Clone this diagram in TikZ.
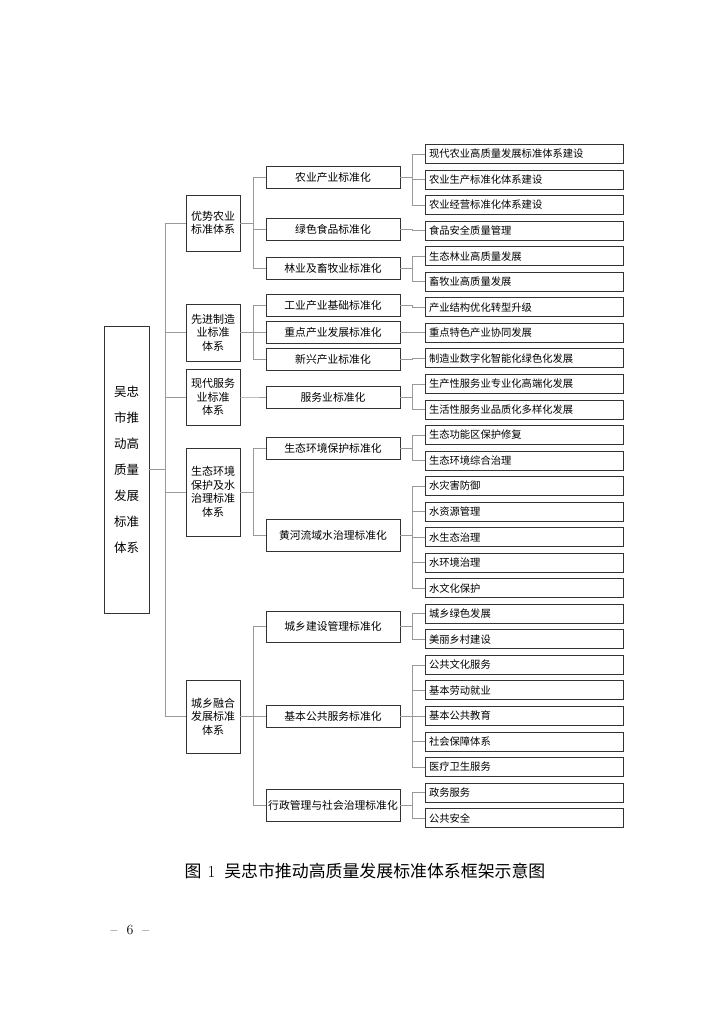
\documentclass[tikz,border=0pt]{standalone}
\usepackage{fontspec}
\newfontfamily\cjk{Noto Sans CJK SC}
\usetikzlibrary{positioning}

\tikzset{
  box/.style={draw=black!80, line width=0.7pt, inner sep=0pt},
  rootbox/.style={box, minimum width=45pt, minimum height=287pt, align=center,
    font=\cjk\fontsize{12.5}{26}\selectfont},
  sysbox/.style={box, minimum width=54pt, align=center,
    font=\cjk\fontsize{11}{13.5}\selectfont},
  stdbox/.style={box, minimum width=134pt, minimum height=22pt,
    font=\cjk\fontsize{10.8}{13}\selectfont},
  itembox/.style={box, minimum width=198pt, minimum height=19pt, text width=190pt,
    inner xsep=4pt, align=left, font=\cjk\fontsize{10.3}{12}\selectfont},
  link/.style={draw=black!40, line width=0.6pt},
}

\begin{document}
\begin{tikzpicture}[x=1pt, y=-1pt]
  \useasboundingbox (0,0) rectangle (724,1024);

  % Root
  \node[rootbox] (root) at (126.5, 469.5)
    {吴忠\\市推\\动高\\质量\\发展\\标准\\体系};

  % Systems
  \node[sysbox, minimum height=56pt] (sys1) at (213, 223) {优势农业\\标准体系};
  \node[sysbox, minimum height=57pt] (sys2) at (213, 332.5) {先进制造\\业标准\\体系};
  \node[sysbox, minimum height=56pt] (sys3) at (213, 397) {现代服务\\业标准\\体系};
  \node[sysbox, minimum height=88pt] (sys4) at (213, 492) {生态环境\\保护及水\\治理标准\\体系};
  \node[sysbox, minimum height=73pt] (sys5) at (213, 716.5) {城乡融合\\发展标准\\体系};

  % Standardisation fields
  \node[stdbox] (std1) at (333, 177) {农业产业标准化};
  \node[stdbox] (std2) at (333, 229) {绿色食品标准化};
  \node[stdbox] (std3) at (333, 268) {林业及畜牧业标准化};
  \node[stdbox] (std4) at (333, 305) {工业产业基础标准化};
  \node[stdbox] (std5) at (333, 332) {重点产业发展标准化};
  \node[stdbox] (std6) at (333, 359.5) {新兴产业标准化};
  \node[stdbox] (std7) at (333, 397) {服务业标准化};
  \node[stdbox] (std8) at (333, 448) {生态环境保护标准化};
  \node[stdbox, minimum height=32pt] (std9) at (333, 535) {黄河流域水治理标准化};
  \node[stdbox, minimum height=31pt] (std10) at (333, 626.5) {城乡建设管理标准化};
  \node[stdbox] (std11) at (333, 716) {基本公共服务标准化};
  \node[stdbox, minimum height=32pt] (std12) at (333, 805) {行政管理与社会治理标准化};

  % Items
  \foreach \t [count=\i from 0] in {
    现代农业高质量发展标准体系建设, 农业生产标准化体系建设, 农业经营标准化体系建设,
    食品安全质量管理, 生态林业高质量发展, 畜牧业高质量发展,
    产业结构优化转型升级, 重点特色产业协同发展, 制造业数字化智能化绿色化发展,
    生产性服务业专业化高端化发展, 生活性服务业品质化多样化发展,
    生态功能区保护修复, 生态环境综合治理,
    水灾害防御, 水资源管理, 水生态治理, 水环境治理, 水文化保护,
    城乡绿色发展, 美丽乡村建设,
    公共文化服务, 基本劳动就业, 基本公共教育, 社会保障体系, 医疗卫生服务,
    政务服务, 公共安全}
    \node[itembox] (it\i) at (524, {154+25.54*\i}) {\t};

  % Bus lines
  \coordinate (rb) at (165, 0);
  \coordinate (sb) at (253, 0);
  \coordinate (ib) at (412, 0);

  \foreach \k in {1,...,5}
    \draw[link] (root.east) -- (root.east -| rb) |- (sys\k.west);

  \foreach \s/\a/\b in {sys1/1/3, sys2/4/6, sys3/7/7, sys4/8/9, sys5/10/12}
    \foreach \k in {\a,...,\b}
      \draw[link] (\s.east) -- (\s.east -| sb) |- (std\k.west);

  \foreach \s/\a/\b in {std1/0/2, std2/3/3, std3/4/5, std4/6/6, std5/7/7, std6/8/8,
      std7/9/10, std8/11/12, std9/13/17, std10/18/19, std11/20/24, std12/25/26}
    \foreach \k in {\a,...,\b}
      \draw[link] (\s.east) -- (\s.east -| ib) |- (it\k.west);

  % Caption and page number
  \node[font=\cjk\fontsize{16.9}{19}\selectfont] (caption) at (365, 871)
    {图\hspace{6pt}{\rmfamily 1}\hspace{9pt}吴忠市推动高质量发展标准体系框架示意图};
  \node[font=\fontsize{14}{16}\selectfont] (page) at (130, 930)
    {--\hspace{9pt}6\hspace{9pt}--};
\end{tikzpicture}
\end{document}
